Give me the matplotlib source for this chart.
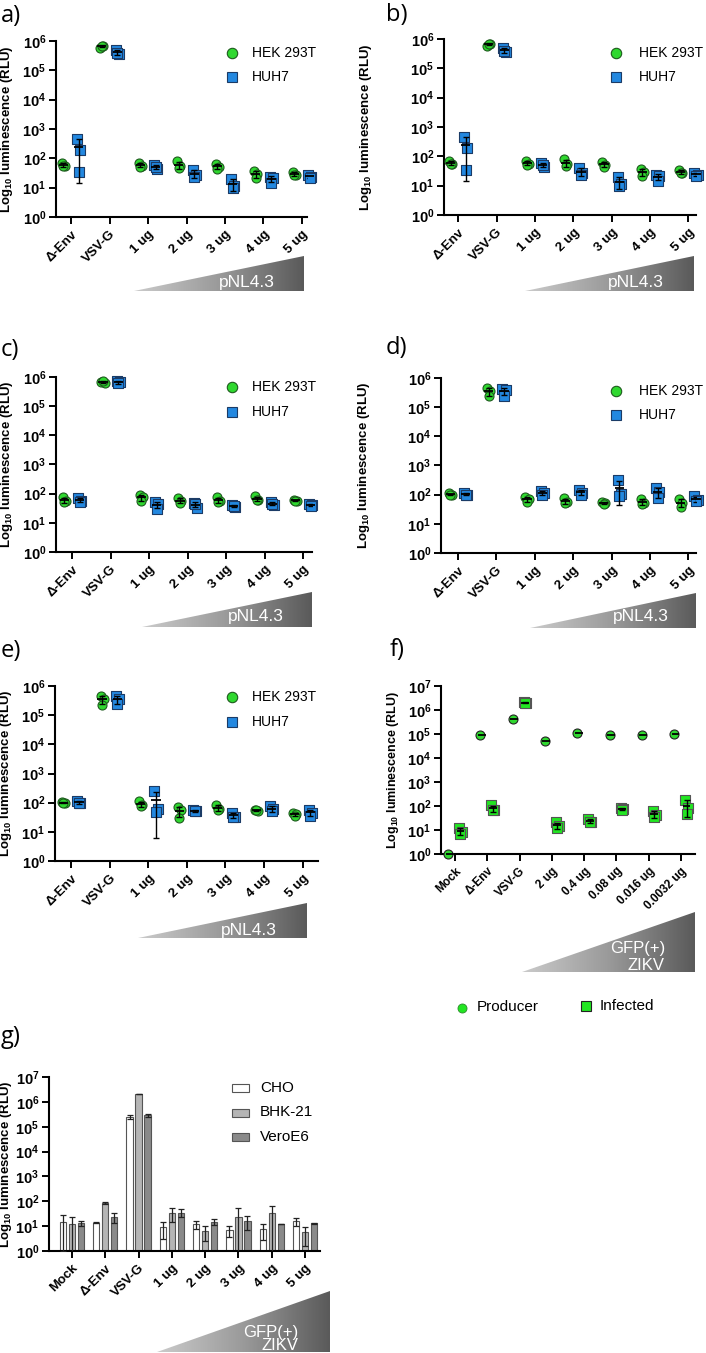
import numpy as np
import matplotlib
matplotlib.use("Agg")
import matplotlib.pyplot as plt
from matplotlib.lines import Line2D
from matplotlib.patches import Polygon, Rectangle
from matplotlib.colors import LinearSegmentedColormap
from matplotlib.ticker import NullLocator

plt.rcParams['font.family'] = ['Liberation Sans', 'DejaVu Sans']
plt.rcParams['mathtext.fontset'] = 'custom'
plt.rcParams['mathtext.rm'] = 'Liberation Sans'
plt.rcParams['mathtext.bf'] = 'Liberation Sans:bold'

W, H = 706, 1353

######################################################################
# data (RLU)
hiv_cats = ['Δ-Env', 'VSV-G', '1 ug', '2 ug', '3 ug', '4 ug', '5 ug']

a_hek = [[70, 55, 55], [6.0e5, 6.8e5, 7.0e5], [68, 55, 52], [78, 55, 48],
         [65, 50, 45], [38, 30, 21], [35, 28, 26]]
a_huh = [[470, 200, 34], [5.0e5, 3.5e5, 3.8e5], [60, 45, 50], [40, 26, 23],
         [20, 11, 9.5], [24, 21, 15], [28, 24, 21]]

b_hek = [[70, 55, 55], [6.0e5, 6.8e5, 7.0e5], [68, 55, 52], [78, 55, 48],
         [65, 50, 45], [38, 30, 21], [35, 28, 26]]
b_huh = [[470, 200, 34], [5.0e5, 3.5e5, 3.8e5], [60, 45, 50], [40, 26, 23],
         [20, 11, 9.5], [24, 21, 15], [28, 24, 21]]

c_hek = [[75, 58, 52], [7.0e5, 6.0e5, 7.2e5], [92, 75, 55], [70, 55, 48],
         [75, 55, 50], [80, 62, 60], [62, 58, 55]]
c_huh = [[70, 58, 52], [7.5e5, 6.5e5, 6.0e5], [52, 45, 30], [48, 33, 45],
         [42, 35, 38], [50, 40, 45], [45, 40, 37]]

d_hek = [[110, 100, 98], [4.4e5, 3.7e5, 2.4e5], [85, 72, 55], [75, 55, 50],
         [55, 52, 48], [70, 52, 48], [70, 50, 38]]
d_huh = [[112, 100, 98], [4.3e5, 3.8e5, 2.5e5], [135, 115, 100], [145, 115, 100],
         [310, 105, 90], [165, 120, 75], [88, 65, 62]]

e_hek = [[105, 98, 95], [4.4e5, 3.7e5, 2.3e5], [110, 80, 78], [70, 55, 30],
         [85, 60, 58], [55, 52, 55], [45, 42, 35]]
e_huh = [[115, 100, 95], [4.5e5, 3.5e5, 2.4e5], [255, 62, 48], [58, 50, 52],
         [44, 33, 32], [78, 60, 50], [58, 45, 36]]

f_cats = ['Mock', 'Δ-Env', 'VSV-G', '2 ug', '0.4 ug', '0.08 ug', '0.016 ug', '0.0032 ug']
f_producer = [[1.0], [8.8e4], [4.3e5], [5.3e4], [1.07e5], [9.4e4], [8.8e4], [9.6e4]]
f_infected = [[12, 8, 7], [105, 70, 65], [2.1e6, 2.0e6, 2.05e6], [21, 14, 12],
              [30, 22, 21], [85, 75, 70], [63, 42, 36], [180, 85, 48]]

g_cats = ['Mock', 'Δ-Env', 'VSV-G', '1 ug', '2 ug', '3 ug', '4 ug', '5 ug']
g_cho = [15, 13.7, 2.5e5, 9, 12, 7, 7.4, 16]
g_cho_sd = [14, 0.8, 4e4, 6, 4, 3.5, 4.5, 6]
g_bhk = [12, 85, 2.1e6, 35, 6.6, 24, 33, 5.6]
g_bhk_sd = [12, 5, 0, 20, 4, 28, 33, 4]
g_vero = [13, 24, 2.9e5, 35, 15, 16, 12, 13]
g_vero_sd = [3, 11, 5e4, 12, 4, 9, 0, 1]

######################################################################
GREEN = '#2fd82f'
GREEN_EDGE = '#1d5a1d'
BLUE = '#2388e0'
BLUE_EDGE = '#1b3b66'
SQ_GREEN = '#22e622'

fig = plt.figure(figsize=(W / 100, H / 100), dpi=100)

ramp_cmap = LinearSegmentedColormap.from_list('ramp', ['#cbcbcb', '#9a9a9a', '#5a5a5a'])
rep_dx = np.array([-0.04, 0.04, 0.0])


def px_axes(left, top, right, bottom):
    return fig.add_axes([left / W, 1 - bottom / H, (right - left) / W, (bottom - top) / H])


def fx(x):
    return x / W


def fy(y):
    return 1 - y / H


def style_axes(ax, cats, top_exp, xlim, label_x, left_px, width_px, tick_fs=9.5, ylab_fs=9.5):
    ax.set_yscale('log')
    ax.set_ylim(1, 10 ** top_exp)
    ax.set_xlim(*xlim)
    exps = range(top_exp + 1)
    ax.set_yticks([10 ** k for k in exps])
    ax.set_yticklabels([r'$\mathbf{10^{%d}}$' % k for k in exps], fontsize=10.5)
    ax.yaxis.set_minor_locator(NullLocator())
    ax.set_xticks(np.arange(len(cats)))
    ax.set_xticklabels(cats, rotation=45, ha='right', rotation_mode='anchor',
                       fontsize=tick_fs, fontweight='bold')
    for s in ('top', 'right'):
        ax.spines[s].set_visible(False)
    for s in ('left', 'bottom'):
        ax.spines[s].set_linewidth(1.5)
    ax.tick_params(axis='both', length=5, width=1.4, pad=2)
    ax.tick_params(axis='x', pad=3)
    ax.set_ylabel(r'Log$_{\mathbf{10}}$ luminescence (RLU)', fontsize=ylab_fs, fontweight='bold')
    # label_x is the centre of the rotated label; the coords give its right edge
    ax.yaxis.set_label_coords(-(left_px - label_x - 6) / width_px, 0.5)
    ax.patch.set_alpha(0)


def draw_group(ax, xc, vals, marker, face, edge):
    vals = np.asarray(vals, float)
    xs = xc + rep_dx[:len(vals)]
    ax.scatter(xs, vals, s=42, marker=marker, facecolor=face, edgecolor=edge,
               linewidth=0.8, zorder=3, clip_on=False)
    m = vals.mean()
    sd = vals.std(ddof=1) if len(vals) > 1 else 0.0
    lo = min(sd, m * 0.999)
    if sd > 0:
        ax.errorbar([xc], [m], yerr=[[lo], [sd]], fmt='none', ecolor='black',
                    elinewidth=1, capsize=2.5, capthick=1, zorder=4)
    ax.hlines(m, xc - 0.12, xc + 0.12, color='black', lw=1.3, zorder=4, clip_on=False)


def ramp(x0, x1, ytop, ybot):
    ax = px_axes(x0, ytop, x1, ybot)
    ax.set_xlim(0, 1)
    ax.set_ylim(0, 1)
    ax.axis('off')
    grad = np.linspace(0, 1, 256).reshape(1, -1)
    im = ax.imshow(grad, cmap=ramp_cmap, extent=[0, 1, 0, 1], aspect='auto')
    tri = Polygon([[0, 0], [1, 0], [1, 1]], closed=True, transform=ax.transAxes,
                  facecolor='none', edgecolor='none')
    ax.add_patch(tri)
    im.set_clip_path(tri)


def scatter_legend(x_mark, x_text, y1, y2):
    fig.add_artist(Line2D([fx(x_mark)], [fy(y1)], marker='o', ms=7.5, mfc=GREEN,
                          mec=GREEN_EDGE, mew=0.8, ls='none', transform=fig.transFigure))
    fig.add_artist(Line2D([fx(x_mark)], [fy(y2)], marker='s', ms=7, mfc=BLUE,
                          mec=BLUE_EDGE, mew=0.8, ls='none', transform=fig.transFigure))
    fig.text(fx(x_text), fy(y1), 'HEK 293T', fontsize=10, va='center')
    fig.text(fx(x_text), fy(y2), 'HUH7', fontsize=10, va='center')


def panel_letter(x, y, s):
    fig.text(fx(x), fy(y), s, fontsize=17, va='center', family=['Open Sans', 'DejaVu Sans'])


def hiv_panel(box, xlim, label_x, hek, huh, ramp_box, ramp_text, legend, letter):
    left, top, right, bottom = box
    ax = px_axes(left, top, right, bottom)
    style_axes(ax, hiv_cats, 6, xlim, label_x, left, right - left)
    for i in range(len(hiv_cats)):
        draw_group(ax, i - 0.2, hek[i], 'o', GREEN, GREEN_EDGE)
        draw_group(ax, i + 0.2, huh[i], 's', BLUE, BLUE_EDGE)
    ramp(*ramp_box)
    fig.text(fx(ramp_text[0]), fy(ramp_text[1]), 'pNL4.3', color='white',
             fontsize=12.5, ha='center', va='center')
    scatter_legend(*legend)
    panel_letter(*letter)
    return ax


hiv_panel((56, 41, 307, 217), (-0.39, 6.13), 9, a_hek, a_huh,
          (134, 304, 256, 291), (247, 283), (232, 252, 53, 77), (1, 16, 'a)'))
hiv_panel((444, 39, 696, 215), (-0.37, 6.2), 368, b_hek, b_huh,
          (525, 694, 256, 291), (636, 283), (616, 639, 53, 77), (386, 15, 'b)'))
hiv_panel((56, 377, 312, 552), (-0.42, 6.23), 9, c_hek, c_huh,
          (142, 312, 592, 627), (256, 617), (232, 252, 387, 412), (1, 350, 'c)'))
hiv_panel((441, 378, 696, 553), (-0.44, 6.2), 366, d_hek, d_huh,
          (530, 696, 593, 628), (641, 616), (616, 639, 391, 415), (386, 348, 'd)'))
hiv_panel((55, 686, 318, 861), (-0.42, 6.4), 8, e_hek, e_huh,
          (138, 307, 903, 938), (249, 930), (232, 252, 697, 722), (1, 651, 'e)'))

######################################################################
# f) ZIKV producer / infected
left, top, right, bottom = 441, 686, 695, 854
ax_f = px_axes(left, top, right, bottom)
style_axes(ax_f, f_cats, 7, (-0.43, 7.43), 395, left, right - left, tick_fs=8.5, ylab_fs=9)
for i in range(len(f_cats)):
    draw_group(ax_f, i - 0.17, f_producer[i], 'o', GREEN, '#222222')
    draw_group(ax_f, i + 0.17, f_infected[i], 's', SQ_GREEN, '#555555')
ramp(522, 695, 912, 972)
fig.text(fx(665), fy(949), 'GFP(+)', color='white', fontsize=12, ha='right', va='center')
fig.text(fx(665), fy(965), 'ZIKV', color='white', fontsize=12, ha='right', va='center')
panel_letter(390, 650, 'f)')
fig.add_artist(Line2D([fx(462)], [fy(1008)], marker='o', ms=6.5, mfc=SQ_GREEN,
                      mec='#2a8a2a', mew=0.6, ls='none', transform=fig.transFigure))
fig.text(fx(477), fy(1007), 'Producer', fontsize=11, va='center')
fig.add_artist(Line2D([fx(586)], [fy(1006)], marker='s', ms=6.5, mfc=SQ_GREEN,
                      mec='#222222', mew=0.8, ls='none', transform=fig.transFigure))
fig.text(fx(600), fy(1006), 'Infected', fontsize=11, va='center')

######################################################################
# g) bars per cell line
left, top, right, bottom = 49, 1077, 320, 1251
ax_g = px_axes(left, top, right, bottom)
ax_g.set_yscale('log')
xg = np.arange(len(g_cats))
bar_w = 0.19
series = [(g_cho, g_cho_sd, 'white', 'CHO', -0.27),
          (g_bhk, g_bhk_sd, '#b5b5b5', 'BHK-21', 0.0),
          (g_vero, g_vero_sd, '#8a8a8a', 'VeroE6', 0.27)]
for vals, sd, col, name, dx in series:
    vals = np.asarray(vals, float)
    sd = np.asarray(sd, float)
    ax_g.bar(xg + dx, vals, width=bar_w, color=col, edgecolor='#555555', linewidth=0.8, zorder=2)
    lo = np.minimum(sd, vals * 0.999)
    ax_g.errorbar(xg + dx, vals, yerr=[lo, sd], fmt='none', ecolor='#222222',
                  elinewidth=0.9, capsize=2, capthick=0.9, zorder=3)
style_axes(ax_g, g_cats, 7, (-0.69, 7.45), 8, left, right - left)
for k, (vals, sd, col, name, dx) in enumerate(series):
    yc = 1088 + k * 24.5
    fig.add_artist(Rectangle((fx(232), fy(yc + 4)), 17 / W, 8 / H, facecolor=col,
                             edgecolor='#555555', linewidth=0.8, transform=fig.transFigure))
    fig.text(fx(260), fy(yc), name, fontsize=11, va='center')
ramp(157, 330, 1291, 1352)
fig.text(fx(298), fy(1332), 'GFP(+)', color='white', fontsize=12, ha='right', va='center')
fig.text(fx(298), fy(1346), 'ZIKV', color='white', fontsize=12, ha='right', va='center')
panel_letter(1, 1037, 'g)')

fig.savefig('out.png', dpi=100)
